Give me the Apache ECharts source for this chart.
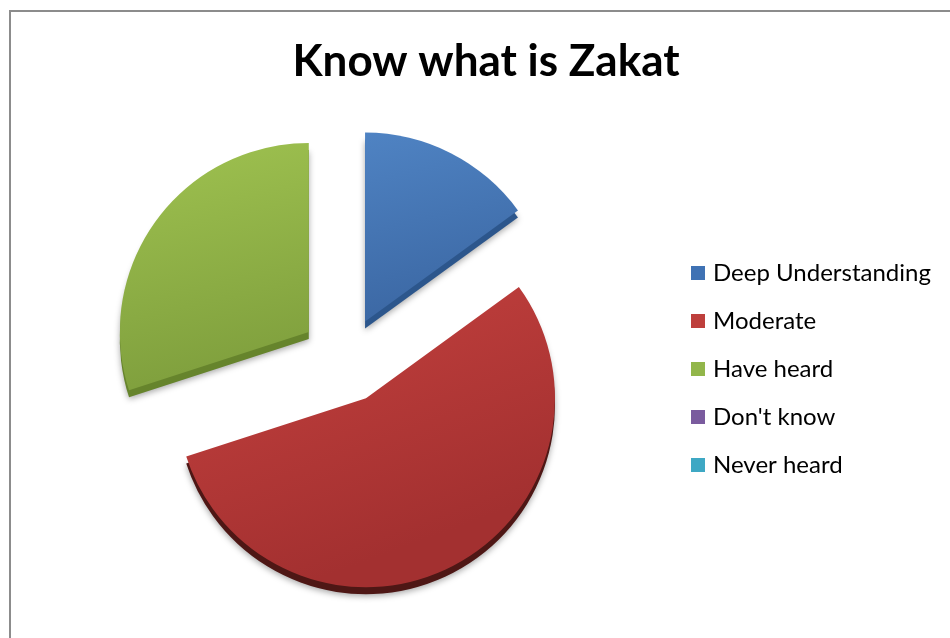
<!DOCTYPE html>
<html>
<head>
<meta charset="utf-8">
<script src="https://cdn.jsdelivr.net/npm/echarts@6/dist/echarts.min.js"></script>
<style>
html,body{margin:0;padding:0;background:#fff;}
#chart{width:950px;height:638px;}
</style>
</head>
<body>
<div id="chart"></div>
<script>
var categories = ['Deep Understanding', 'Moderate', 'Have heard', "Don't know", 'Never heard'];
var values = [15, 55, 30, 0, 0];
var topColors = ['#4f83c3', '#c6423f', '#9fc250', '#8064a2', '#4bacc6'];
var bottomColors = ['#3b67a3', '#a33030', '#7f9f3d', '#6a4f8a', '#2f8fa8'];
var sideColors = ['#2c568c', '#4e1715', '#66842c', '#503a6b', '#226d80'];
var legendColors = ['#3f72b4', '#be3f3c', '#92b64a', '#7a5b9e', '#3ea8c4'];
var explode = [42, 44, 46, 42, 42];

function grad(a, b) {
  return new echarts.graphic.LinearGradient(0, 0, 0.3, 1, [
    {offset: 0, color: a}, {offset: 1, color: b}
  ]);
}

var cx = 346, cy = 359, R = 189;
var NONE = 'rgba(0,0,0,0)';

function buildData(k, side) {
  return categories.map(function (c, i) {
    var on = i === k;
    return {
      name: c, value: values[i], selected: on,
      itemStyle: on ? (side ? {color: sideColors[i], shadowColor: 'rgba(0,0,0,0.35)', shadowBlur: 6, shadowOffsetY: 2}
                            : {color: grad(topColors[i], bottomColors[i])})
                    : {color: NONE, shadowBlur: 0}
    };
  });
}

var series = [];
values.forEach(function (v, k) {
  if (!(v > 0)) return;
  var common = {
    type: 'pie', center: [cx, cy], radius: [0, R],
    clockwise: true, startAngle: 90,
    selectedMode: 'multiple', selectedOffset: explode[k],
    label: {show: false}, labelLine: {show: false},
    emphasis: {disabled: true}, silent: true, legendHoverLink: false
  };
  series.push(Object.assign({}, common, {name: 'side' + k, z: 1, center: [cx, cy + 7], data: buildData(k, true)}));
  series.push(Object.assign({}, common, {name: 'face' + k, z: 2, data: buildData(k, false)}));
});

var chart = echarts.init(document.getElementById('chart'));
chart.setOption({
  animation: false,
  title: {
    text: 'Know what is Zakat',
    left: 481, top: 35, textAlign: 'center',
    textStyle: {fontFamily: 'Lato', fontWeight: 'bold', fontSize: 44, color: '#000'}
  },
  legend: {
    orient: 'vertical', left: 686, top: 256,
    itemWidth: 14, itemHeight: 14, itemGap: 24,
    icon: 'rect',
    data: categories.map(function (c, i) { return {name: c, itemStyle: {color: legendColors[i]}}; }),
    selectedMode: false,
    textStyle: {fontFamily: 'Lato', fontSize: 24, lineHeight: 24, color: '#000', padding: [0, 0, 0, 3]}
  },
  graphic: [{
    type: 'rect', z: 100,
    shape: {x: 10, y: 11, width: 960, height: 660},
    style: {fill: 'none', stroke: '#8c8c8c', lineWidth: 2}
  }],
  series: series
});
</script>
</body>
</html>
